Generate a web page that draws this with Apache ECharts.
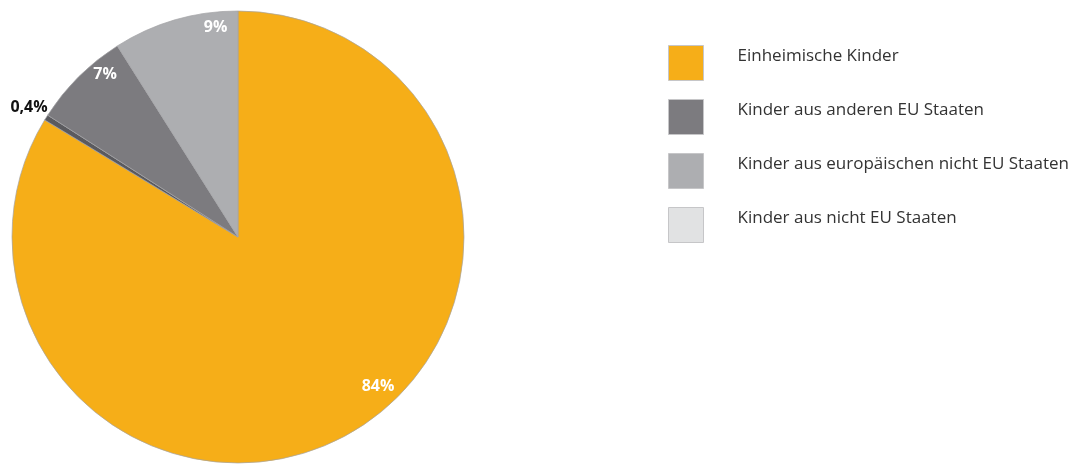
<!DOCTYPE html>
<html><head><meta charset="utf-8">
<script src="https://cdn.jsdelivr.net/npm/echarts@6/dist/echarts.min.js"></script>
<style>html,body{margin:0;padding:0;background:#fff}#c{width:1077px;height:464px}</style>
</head><body><div id="c"></div>
<script>
const categories = ["Einheimische Kinder","Kinder aus nicht EU Staaten","Kinder aus anderen EU Staaten","Kinder aus europäischen nicht EU Staaten"];
const values = [84, 0.4, 7, 9];
const labels = ["84%","0,4%","7%","9%"];
const legendOrder = ["Einheimische Kinder","Kinder aus anderen EU Staaten","Kinder aus europäischen nicht EU Staaten","Kinder aus nicht EU Staaten"];
const colors = ["#f6ae18","#5a5a5e","#7c7b7f","#adaeb1"];
const legendColors = {"Einheimische Kinder":"#f6ae18","Kinder aus anderen EU Staaten":"#7c7b7f","Kinder aus europäischen nicht EU Staaten":"#adaeb1","Kinder aus nicht EU Staaten":"#e1e2e3"};
const labelOffsets = [[35,-37],[17,-5],[18,-11],[37,-4]];

const chart = echarts.init(document.getElementById('c'), null, {renderer:'canvas'});
const font = '"Open Sans", "Noto Sans", sans-serif';
chart.setOption({
  animation:false,
  legend:{
    orient:'vertical', left:668, top:45, padding:0, itemWidth:35, itemHeight:35, itemGap:18,
    icon:'rect',
    formatter: n => n + '\n ',
    textStyle:{fontFamily:font, fontSize:17, lineHeight:14, color:'#333', padding:[0,0,0,29]},
    data: legendOrder.map(n=>({name:n, itemStyle:{color:legendColors[n], borderColor:'#c6c6c8', borderWidth:1}}))
  },
  series:[
    {
      type:'pie', center:[238,237], radius:[0,226], startAngle:90, clockwise:true,
      avoidLabelOverlap:false,
      itemStyle:{borderColor:'#a3a3a6', borderWidth:0.7},
      label:{show:false}, labelLine:{show:false},
      data: categories.map((n,i)=>({name:n, value:values[i], itemStyle:{color:colors[i]}}))
    },
    {
      type:'pie', center:[238,237], radius:[196,226], startAngle:90, clockwise:true,
      silent:true, avoidLabelOverlap:false, legendHoverLink:false,
      itemStyle:{color:'rgba(0,0,0,0)', borderWidth:0},
      label:{show:true, position:'inside', color:'#fff', fontFamily:font, fontWeight:'bold', fontSize:16,
        formatter:p=>labels[p.dataIndex]},
      labelLine:{show:false},
      data: categories.map((n,i)=>{
        const d = {name:n, value:values[i], label:{offset:labelOffsets[i]}};
        if (i===1) {
          d.label = {position:'outside', color:'#111', formatter:labels[i], offset:labelOffsets[i]};
          d.labelLine = {show:false, length:10, length2:2};
        }
        return d;
      })
    }
  ]
});
</script></body></html>
